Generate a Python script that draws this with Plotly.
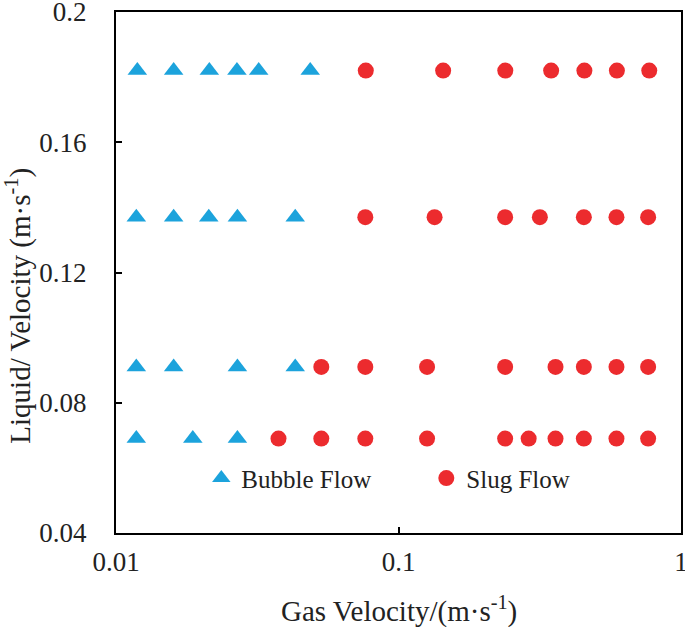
import plotly.graph_objects as go

# Bubble flow points (gas velocity, liquid velocity)
bubble_gas = [0.0119, 0.0160, 0.0214, 0.0268, 0.0320, 0.0487,
              0.0118, 0.0160, 0.0213, 0.0269, 0.0431,
              0.0118, 0.0160, 0.0269, 0.0431,
              0.0118, 0.0187, 0.0269]
bubble_liq = [0.182, 0.182, 0.182, 0.182, 0.182, 0.182,
              0.137, 0.137, 0.137, 0.137, 0.137,
              0.091, 0.091, 0.091, 0.091,
              0.069, 0.069, 0.069]

# Slug flow points
slug_gas = [0.0766, 0.1439, 0.2388, 0.347, 0.455, 0.593, 0.772,
            0.0763, 0.1342, 0.2385, 0.3165, 0.453, 0.591, 0.765,
            0.0533, 0.0763, 0.1262, 0.2385, 0.3596, 0.453, 0.591, 0.765,
            0.0376, 0.0533, 0.0763, 0.1262, 0.2385, 0.2889, 0.3596, 0.453, 0.591, 0.765]
slug_liq = [0.182] * 7 + [0.137] * 7 + [0.091] * 8 + [0.069] * 10

x_ticks = [0.01, 0.1, 1]
x_tick_labels = ["0.01", "0.1", "1"]
y_ticks = [0.04, 0.08, 0.12, 0.16, 0.2]
y_tick_labels = ["0.04", "0.08", "0.12", "0.16", "0.2"]

FONT = "Liberation Serif, Times New Roman, serif"
TXT = "#222222"

fig = go.Figure()
fig.add_trace(go.Scatter(
    x=bubble_gas, y=bubble_liq, mode="markers", name="Bubble Flow",
    marker=dict(symbol="triangle-up", size=17, color="#1CA3DC"),
))
fig.add_trace(go.Scatter(
    x=slug_gas, y=slug_liq, mode="markers", name="Slug Flow",
    marker=dict(symbol="circle", size=16, color="#EC2B2E"),
))

axis_common = dict(
    showline=True, linecolor="black", linewidth=2, mirror=True,
    ticks="inside", ticklen=6, tickwidth=2, tickcolor="black",
    showgrid=False, zeroline=False, automargin=False,
    ticklabeloverflow="allow",
    tickfont=dict(family=FONT, size=27, color=TXT),
)

fig.update_xaxes(
    type="log", range=[-2, 0],
    tickvals=x_ticks, ticktext=x_tick_labels, ticklabelstandoff=4,
    **axis_common,
)
fig.update_yaxes(
    range=[0.04, 0.2],
    tickvals=y_ticks, ticktext=y_tick_labels, ticklabelstandoff=22,
    **axis_common,
)

fig.add_annotation(
    text="Gas Velocity/(m·s<sup>-1</sup>)", xref="paper", yref="paper",
    x=0.5, y=-0.147, xanchor="center", yanchor="middle", showarrow=False,
    font=dict(family=FONT, size=29, color=TXT),
)
fig.add_annotation(
    text="Liquid/ Velocity (m·s<sup>-1</sup>)", xref="paper", yref="paper",
    x=-0.172, y=0.436, xanchor="center", yanchor="middle", showarrow=False,
    textangle=-90, font=dict(family=FONT, size=29, color=TXT),
)

fig.update_layout(
    width=685, height=627,
    margin=dict(l=116, r=4, t=12, b=94),
    paper_bgcolor="white", plot_bgcolor="white",
    showlegend=True,
    legend=dict(
        orientation="h", x=0.151, y=0.105, xanchor="left", yanchor="middle",
        font=dict(family=FONT, size=25, color=TXT),
        entrywidth=180, entrywidthmode="pixels",
        bgcolor="rgba(0,0,0,0)", itemwidth=30,
    ),
)

fig.write_html("out.html", config={"displayModeBar": False},
               post_script="document.body.style.margin='0';")
